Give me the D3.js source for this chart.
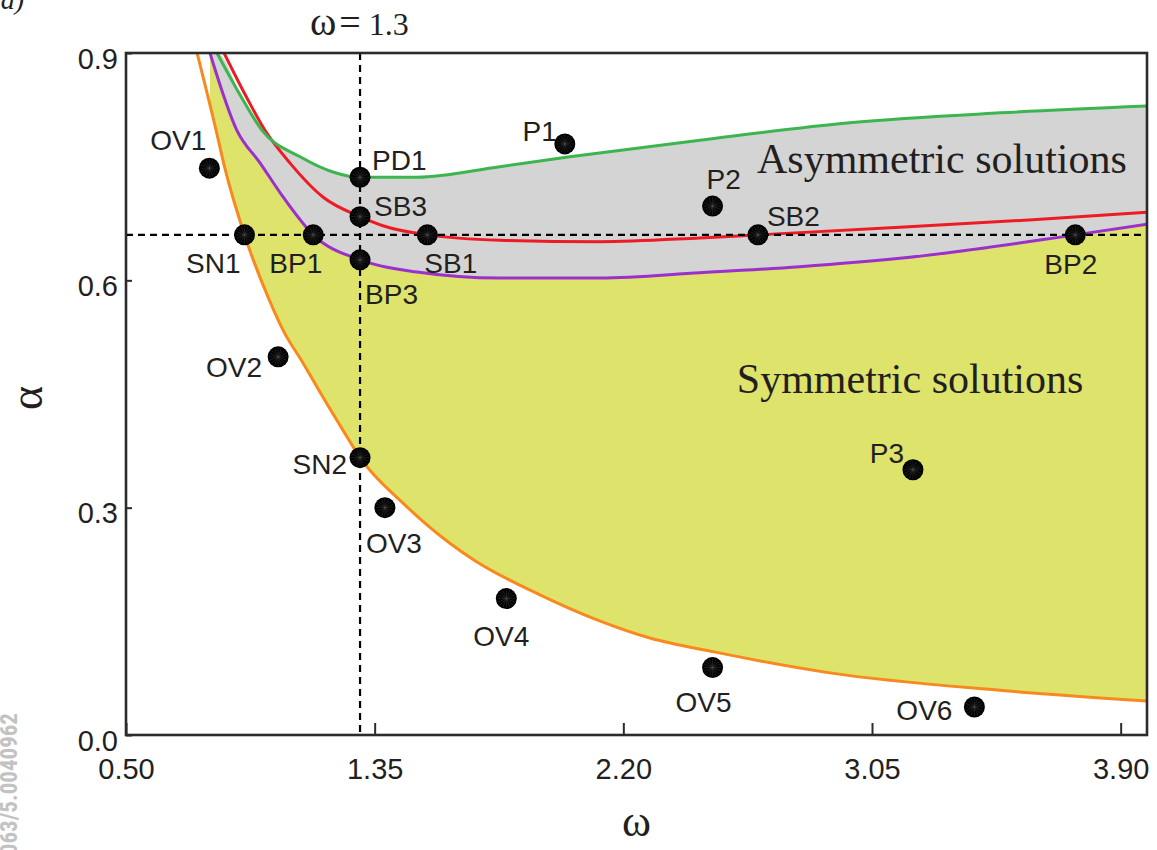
<!DOCTYPE html>
<html>
<head>
<meta charset="utf-8">
<script src="https://cdn.jsdelivr.net/npm/d3@7"></script>
<style>
  html, body { margin: 0; padding: 0; background: #fff; }
  svg { display: block; }
</style>
</head>
<body>
<svg id="chart" width="1157" height="850"></svg>
<script>
// Tick values
const omegaTicks = [0.50, 1.35, 2.20, 3.05, 3.90];
const alphaTicks = [0.0, 0.3, 0.6, 0.9];

// Reference lines
const omegaCut = 1.3;
const alphaCut = 0.66;

// Bifurcation curves, [omega, alpha]
const snCurve = [ // saddle-node (orange)
  [0.743, 0.900], [0.808, 0.798], [0.838, 0.748], [0.905, 0.660], [0.990, 0.574],
  [1.040, 0.532], [1.105, 0.491], [1.173, 0.446], [1.242, 0.402], [1.300, 0.366],
  [1.447, 0.306], [1.607, 0.253], [1.693, 0.230], [1.915, 0.185], [2.110, 0.152],
  [2.291, 0.128], [2.506, 0.110], [2.906, 0.082], [3.487, 0.059], [3.990, 0.045]
];
const bpCurve = [ // branch point (purple)
  [0.787, 0.900], [0.879, 0.798], [0.958, 0.755], [1.037, 0.710], [1.140, 0.660],
  [1.300, 0.627], [1.495, 0.611], [1.778, 0.603], [2.120, 0.603], [2.462, 0.610],
  [2.803, 0.618], [3.145, 0.629], [3.745, 0.660], [3.990, 0.674]
];
const sbCurve = [ // symmetry breaking (red)
  [0.835, 0.900], [0.917, 0.838], [0.975, 0.798], [1.060, 0.755], [1.173, 0.710],
  [1.300, 0.684], [1.378, 0.672], [1.530, 0.660], [1.778, 0.653], [2.120, 0.651],
  [2.462, 0.656], [2.660, 0.660], [3.145, 0.670], [3.600, 0.680], [3.990, 0.690]
];
const pdCurve = [ // period doubling (green)
  [0.811, 0.900], [0.900, 0.838], [0.965, 0.798], [1.095, 0.763], [1.207, 0.743],
  [1.300, 0.736], [1.495, 0.736], [1.778, 0.750], [2.017, 0.763], [2.462, 0.785],
  [2.974, 0.808], [3.487, 0.821], [3.990, 0.830]
];

// Marked parameter points
const pointNames = ["OV1","SN1","BP1","SB1","SB2","BP2","PD1","SB3","BP3","SN2",
                    "P1","P2","OV2","OV3","OV4","OV5","P3","OV6"];
const pointOmega = [0.785, 0.905, 1.140, 1.530, 2.660, 3.745, 1.300, 1.300, 1.300, 1.300,
                    2.000, 2.505, 1.020, 1.385, 1.800, 2.505, 3.190, 3.400];
const pointAlpha = [0.748, 0.660, 0.660, 0.660, 0.660, 0.660, 0.736, 0.684, 0.627, 0.366,
                    0.780, 0.698, 0.499, 0.300, 0.180, 0.089, 0.350, 0.037];

// Region names
const regionNames = ["Asymmetric solutions", "Symmetric solutions"];
const regionOmega = [2.657, 2.588];
const regionAlpha = [0.742, 0.451];

// ---------------------------------------------------------------------------
const svg = d3.select("#chart");
const plotL = 126, plotR = 1147, plotT = 53, plotB = 735;
const x = d3.scaleLinear().domain([0.5, 3.99]).range([plotL, plotR]);
const y = d3.scaleLinear().domain([0, 0.9]).range([plotB, plotT]);

const sans = "'Liberation Sans', Arial, Helvetica, sans-serif";
const serif = "'Liberation Serif', 'Times New Roman', Times, serif";
const ink = "#231f20";

const defs = svg.append("defs");
defs.append("clipPath").attr("id", "plotClip")
  .append("rect").attr("x", plotL).attr("y", plotT)
  .attr("width", plotR - plotL).attr("height", plotB - plotT);

const curve = d3.curveMonotoneX;
const line = d3.line().x(d => x(d[0])).y(d => y(d[1])).curve(curve);
const areaDown = d3.area().x(d => x(d[0])).y1(d => y(d[1])).y0(y(0) + 20).curve(curve);
const areaUp = d3.area().x(d => x(d[0])).y1(d => y(d[1])).y0(y(0.9) - 20).curve(curve);

// region below the branch-point curve, and region above it
defs.append("clipPath").attr("id", "belowBP")
  .append("path").attr("d", areaDown(bpCurve));
defs.append("clipPath").attr("id", "aboveBP")
  .append("path").attr("d", areaUp(bpCurve));

const plot = svg.append("g").attr("clip-path", "url(#plotClip)");

// symmetric-solution band: above SN, below BP
plot.append("g").attr("clip-path", "url(#belowBP)")
  .append("path").attr("d", areaUp(snCurve)).attr("fill", "#dee36b");

// asymmetric-solution band: above BP, below PD
const pdArea = [[0.780, 0.900]].concat(pdCurve);
plot.append("g").attr("clip-path", "url(#aboveBP)")
  .append("path").attr("d", areaDown(pdArea)).attr("fill", "#d4d4d4");

// curves
const curves = [
  { data: snCurve, color: "#f7891f" },
  { data: bpCurve, color: "#9b30cc" },
  { data: sbCurve, color: "#ed1c24" },
  { data: pdCurve, color: "#3db54f" }
];
plot.selectAll("path.curve").data(curves).join("path")
  .attr("class", "curve")
  .attr("d", d => line(d.data))
  .attr("fill", "none")
  .attr("stroke", d => d.color)
  .attr("stroke-width", 3);

// dashed guide lines
plot.append("line")
  .attr("x1", x(omegaCut)).attr("x2", x(omegaCut))
  .attr("y1", plotT).attr("y2", plotB)
  .attr("stroke", "#000").attr("stroke-width", 2.2).attr("stroke-dasharray", "7,5");
plot.append("line")
  .attr("x1", plotL).attr("x2", plotR)
  .attr("y1", y(alphaCut)).attr("y2", y(alphaCut))
  .attr("stroke", "#000").attr("stroke-width", 2.2).attr("stroke-dasharray", "7,5");

// axes
const xAxis = d3.axisBottom(x).tickValues(omegaTicks).tickFormat(d3.format(".2f"))
  .tickSizeInner(-12).tickSizeOuter(0).tickPadding(23);
const yAxis = d3.axisLeft(y).tickValues(alphaTicks).tickFormat(d3.format(".1f"))
  .tickSizeInner(-6).tickSizeOuter(0).tickPadding(8);

const gx = svg.append("g").attr("transform", `translate(0,${plotB})`).call(xAxis);
const gy = svg.append("g").attr("transform", `translate(${plotL},0)`).call(yAxis);
[gx, gy].forEach(g => {
  g.select(".domain").remove();
  g.selectAll(".tick line").attr("stroke", "#2b2b2b").attr("stroke-width", 2);
  g.selectAll(".tick text").attr("fill", ink)
    .style("font-family", sans).style("font-size", "29px");
});
gy.selectAll(".tick text").attr("dy", "0.52em");

// frame
svg.append("rect")
  .attr("x", plotL).attr("y", plotT)
  .attr("width", plotR - plotL).attr("height", plotB - plotT)
  .attr("fill", "none").attr("stroke", "#2b2b2b").attr("stroke-width", 2.6);

// points
const points = pointNames.map((n, i) => ({ name: n, w: pointOmega[i], a: pointAlpha[i] }));
const labelPlacement = {
  OV1: [-3, -18, "end"],  SN1: [-4, 38, "end"],   BP1: [9, 38, "end"],
  SB1: [-3, 38, "start"], SB2: [9, -9, "start"],  BP2: [-31, 39, "start"],
  PD1: [12, -7, "start"], SB3: [14, -1, "start"], BP3: [5, 44, "start"],
  SN2: [-13, 16, "end"],  P1: [-8, -3, "end"],    P2: [-6, -17, "start"],
  OV2: [-16, 20, "end"],  OV3: [-19, 45, "start"], OV4: [-33, 47, "start"],
  OV5: [-37, 44, "start"], P3: [-9, -7, "end"],   OV6: [-22, 13, "end"]
};

const dotR = 10.5;
const spokes = d3.range(8).map(k => k * Math.PI / 8);
const pg = svg.append("g");
points.forEach(p => {
  const cx = x(p.w), cy = y(p.a);
  pg.append("circle").attr("cx", cx).attr("cy", cy).attr("r", dotR).attr("fill", "#000");
  spokes.forEach(t => {
    pg.append("line")
      .attr("x1", cx - Math.cos(t) * (dotR - 1.5)).attr("y1", cy - Math.sin(t) * (dotR - 1.5))
      .attr("x2", cx + Math.cos(t) * (dotR - 1.5)).attr("y2", cy + Math.sin(t) * (dotR - 1.5))
      .attr("stroke", "#5a5a5a").attr("stroke-width", 0.5).attr("opacity", 0.7);
  });
  const [dx, dy, anchor] = labelPlacement[p.name];
  pg.append("text")
    .attr("x", cx + dx).attr("y", cy + dy)
    .attr("text-anchor", anchor)
    .attr("fill", ink)
    .style("font-family", sans).style("font-size", "28px")
    .text(p.name);
});

// region names
regionNames.forEach((t, i) => {
  svg.append("text")
    .attr("x", x(regionOmega[i])).attr("y", y(regionAlpha[i]))
    .attr("fill", ink)
    .style("font-family", serif).style("font-size", "42px")
    .text(t);
});

// omega = 1.3 annotation above the plot
const ann = svg.append("text").attr("x", 310).attr("y", 35)
  .attr("fill", ink).style("font-family", serif);
ann.append("tspan").style("font-size", "40px").text("ω");
ann.append("tspan").attr("dx", 3).style("font-size", "38px").text("=");
ann.append("tspan").attr("dx", 8).style("font-size", "32px").text("1.3");

// axis titles
svg.append("text")
  .attr("x", (plotL + plotR) / 2).attr("y", 836)
  .attr("text-anchor", "middle").attr("fill", ink)
  .style("font-family", serif).style("font-size", "44px")
  .text("ω");
svg.append("text")
  .attr("transform", `translate(42,${(plotT + plotB) / 2 + 4}) rotate(-90)`)
  .attr("text-anchor", "middle").attr("fill", ink)
  .style("font-family", serif).style("font-size", "46px")
  .text("α");

// panel tag
svg.append("text")
  .attr("x", 24).attr("y", 9).attr("text-anchor", "end")
  .attr("fill", ink)
  .style("font-family", serif).style("font-size", "28px").style("font-style", "italic")
  .text("(a)");

// side DOI strip
svg.append("text")
  .attr("transform", "translate(17,713) rotate(-90)")
  .attr("text-anchor", "end")
  .attr("fill", "#c2c2c2")
  .style("font-family", "'Liberation Sans Narrow', 'Roboto Condensed', 'Liberation Sans', sans-serif")
  .style("font-weight", "bold").style("font-size", "23px")
  .text("10.1063/5.0040962");
</script>
</body>
</html>
